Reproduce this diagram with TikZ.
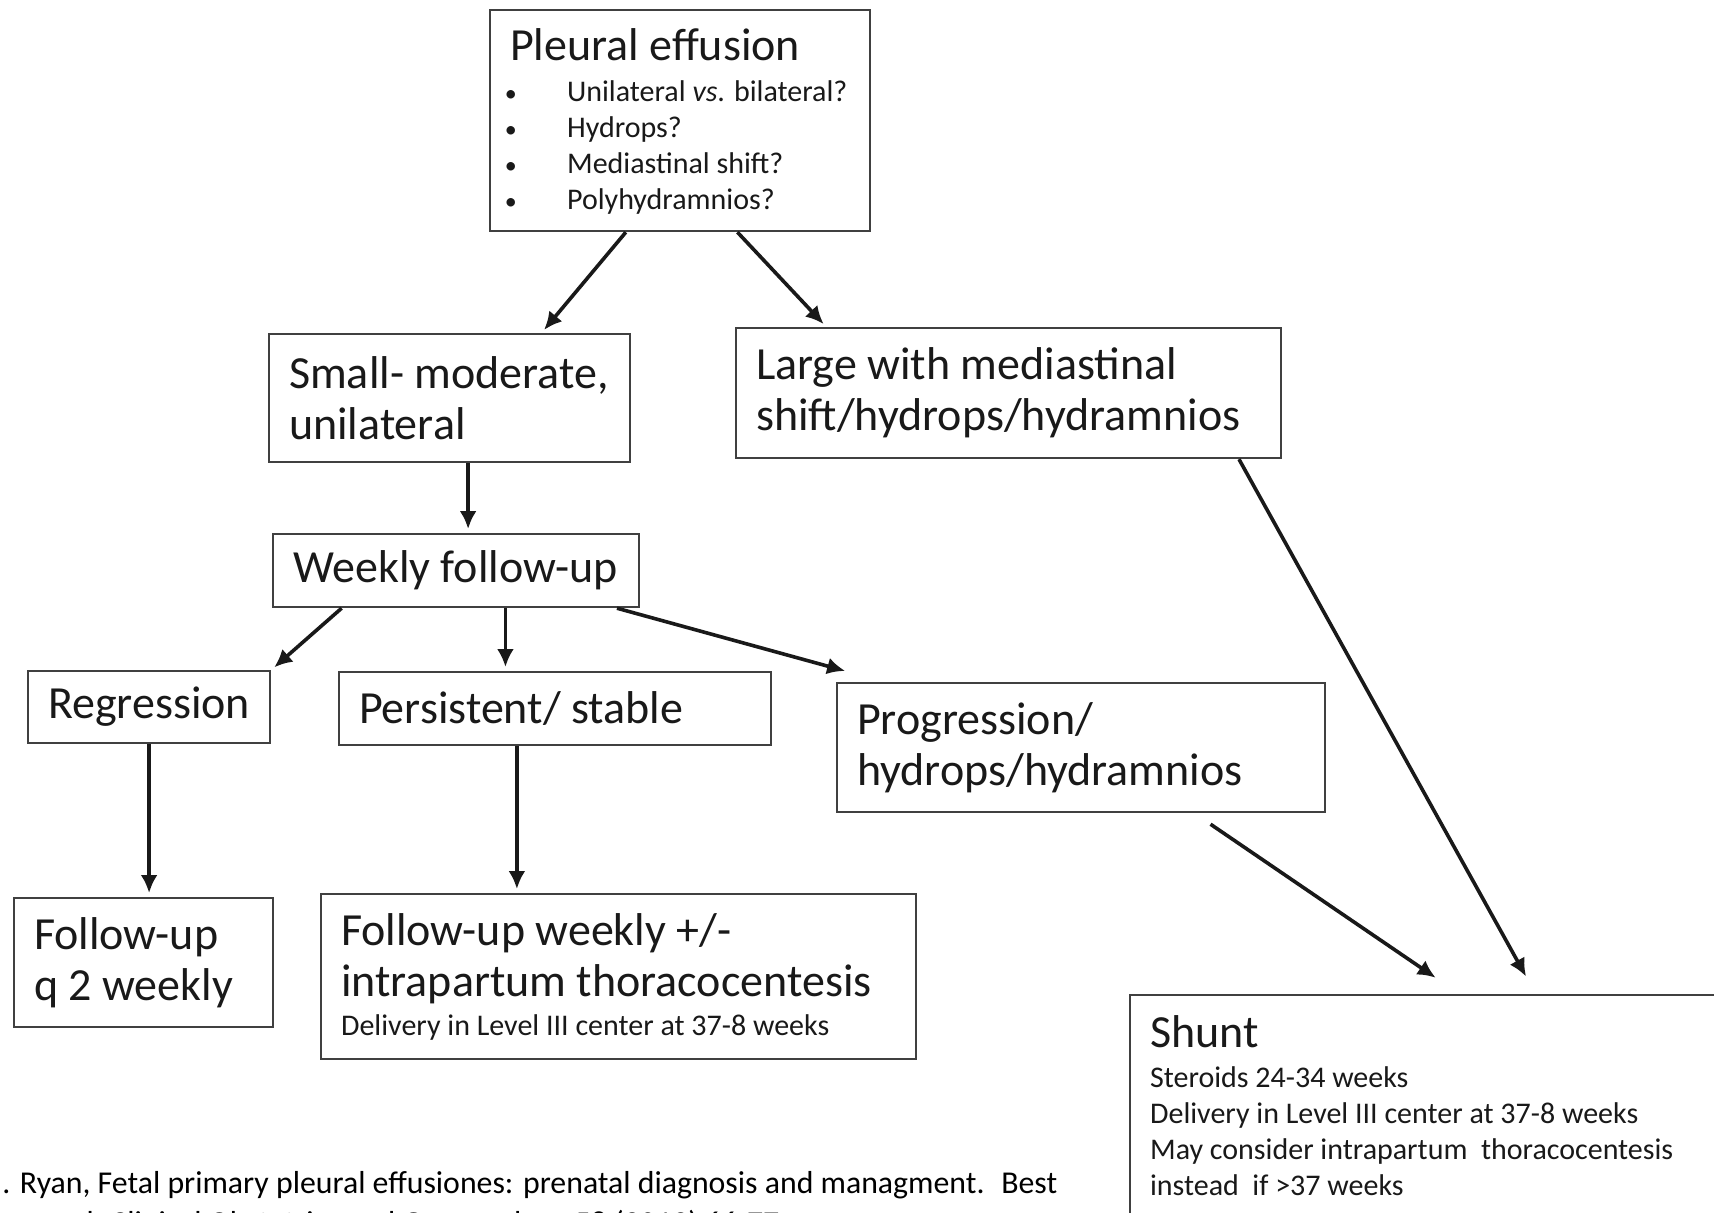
\documentclass[tikz,border=0pt]{standalone}
\usepackage{fontspec}
\setmainfont{Carlito}
\usetikzlibrary{positioning, arrows.meta, calc}
\newcommand{\bigtxt}{\fontsize{23}{25.5}\selectfont}
\newcommand{\smalltxt}{\fontsize{15}{18}\selectfont}

\begin{document}
\begin{tikzpicture}[x=0.5pt, y=-0.5pt]
	% Define styles
	\tikzset{
		box/.style={rectangle, draw=black!75, line width=1.1pt, anchor=north west, align=flush left, inner xsep=10pt, inner ysep=6pt, text=black!90, font=\bigtxt},
		line/.style={draw=black!90, line width=1.8pt, shorten >=2pt, -{Latex[length=9pt, width=8.5pt]}},
		cite/.style={inner sep=0pt, anchor=base west, text=black, font=\fontsize{15.9}{17}\selectfont}
	}
	\path[use as bounding box, fill=white] (0,0) rectangle (1714,1212);

	% Nodes
	\node[box, minimum width=190pt, minimum height=110.5pt, text width=170pt, inner ysep=4pt, font=\smalltxt] (pe) at (489,9) {%
		\begin{tabular}{@{}p{28.5pt}@{}l@{}}
			\multicolumn{2}{@{}l@{}}{\bigtxt\rule{0pt}{19.8pt}Pleural effusion}\\[2.6pt]
			\hspace*{-2.6pt}{\fontsize{12}{12}\selectfont\textbullet} & Unilateral \textit{vs}. bilateral?\\
			\hspace*{-2.6pt}{\fontsize{12}{12}\selectfont\textbullet} & Hydrops?\\
			\hspace*{-2.6pt}{\fontsize{12}{12}\selectfont\textbullet} & Mediastinal shift?\\
			\hspace*{-2.6pt}{\fontsize{12}{12}\selectfont\textbullet} & Polyhydramnios?
		\end{tabular}};
	\node[box, minimum width=180.5pt, minimum height=64pt, text width=160.5pt] (sm) at (268,333) {\mbox{Small- moderate,}\\ unilateral};
	\node[box, minimum width=272.5pt, minimum height=65pt, text width=252.5pt] (lg) at (735,327) {Large with mediastinal\\ \mbox{shift/hydrops/hydramnios}};
	\node[box, minimum width=183pt, minimum height=36.5pt, text width=163pt] (wk) at (272,533) {\mbox{Weekly follow-up}};
	\node[box, minimum width=121pt, minimum height=36pt, text width=101pt] (rg) at (27,670) {\mbox{Regression}};
	\node[box, minimum width=216pt, minimum height=36.5pt, text width=196pt] (ps) at (338,671) {\mbox{Persistent/ stable}};
	\node[box, minimum width=244pt, minimum height=64.5pt, text width=224pt] (pg) at (836,682) {Progression/\\ hydrops/hydramnios};
	\node[box, minimum width=129.5pt, minimum height=64.5pt, text width=109.5pt] (fu) at (13,897) {Follow-up\\ q 2 weekly};
	\node[box, minimum width=297.5pt, minimum height=82.5pt, text width=277.5pt] (fw) at (320,893) {Follow-up weekly +/-\\ \mbox{intrapartum thoracocentesis}\\[-6pt] {\smalltxt Delivery in Level III center at 37-8 weeks}};
	\node[box, minimum width=302.5pt, text width=282.5pt, inner ysep=10pt, font=\smalltxt] (sh) at (1129,994) {{\bigtxt Shunt}\\[2pt] Steroids 24-34 weeks\\ Delivery in Level III center at 37-8 weeks\\ May consider intrapartum~ thoracocentesis\\ instead~ if >37 weeks\rule[-14pt]{0pt}{0pt}};

	\node[cite] (ref1) at (2,1193) {. Ryan, Fetal primary pleural effusiones: prenatal diagnosis and managment.~ Best};
	\node[cite] (ref2) at (110,1233) {\llap{Practice \& Research }Clinical Obstetrics and Gynaecology 58 (2019) 66-77};

	% Arrows
	\draw[line] ($(pe.south west)!.358!(pe.south east)$) -- ($(sm.north west)!.753!(sm.north east)$);
	\draw[line] ($(pe.south west)!.65!(pe.south east)$) -- ($(lg.north west)!.167!(lg.north east)$);

	\coordinate (smb) at ($(sm.south west)!.551!(sm.south east)$);
	\draw[line] (smb) -- (smb |- wk.north);

	\coordinate (wkb) at ($(wk.south west)!.634!(wk.south east)$);
	\draw[line] ($(wk.south west)!.189!(wk.south east)$) -- (rg.north east);
	\draw[line] (wkb) -- (wkb |- ps.north);
	\draw[line] ($(wk.south west)!.937!(wk.south east)$) -- ($(pg.north west)+(13,-10)$);

	\coordinate (psb) at ($(ps.south west)!.412!(ps.south east)$);
	\draw[line] (rg.south) -- (rg.south |- fu.north);
	\draw[line] (psb) -- (psb |- fw.north);

	\coordinate (pgb) at ($(pg.south west)!.764!(pg.south east)+(0,11)$);
	\draw[line] (pgb) -- ($(sh.north west)+(310,-14)$);
	\draw[line] ($(lg.south west)!.921!(lg.south east)$) -- ($(sh.north west)+(399,-14)$);
\end{tikzpicture}
\end{document}
